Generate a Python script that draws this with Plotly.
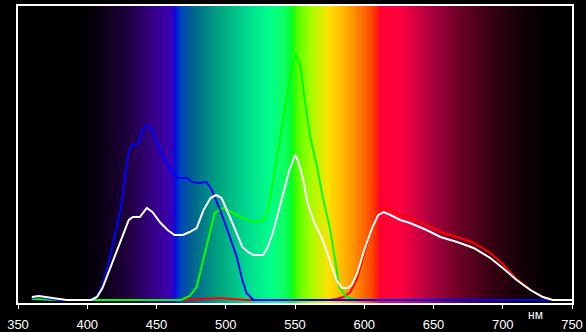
import plotly.graph_objects as go
import numpy as np

# ---- data (wavelength nm, relative intensity) ----
white_wl = [360, 365, 370, 375, 380, 385, 403, 407, 411, 416, 420, 424, 430, 433, 438, 443, 447, 453, 458, 463,
            469, 474, 479, 484, 489, 493, 497, 503, 508, 512, 516, 520, 527, 530, 534, 541, 546, 550, 552, 556,
            559, 564, 570, 575, 580, 584, 588, 591, 595, 600, 606, 610, 614, 619, 626, 633, 645, 655, 667, 679,
            691, 700, 710, 720, 729, 736, 750]
white_val = [3, 4, 3, 2, 1, 0, 0, 3, 12, 30, 44, 57, 80, 83, 83, 92, 88, 77, 70, 65,
             65, 68, 72, 90, 102, 105, 102, 83, 67, 53, 48, 45, 45, 52, 67, 103, 130, 145, 140, 120,
             97, 77, 60, 40, 20, 12, 12, 15, 27, 50, 73, 85, 88, 85, 80, 77, 70, 63, 58, 52,
             42, 32, 20, 10, 3, 0, 0]

blue_wl = [360, 365, 370, 375, 380, 400, 404, 407, 411, 416, 420, 424, 429, 431, 437, 440, 443, 447, 450, 455,
           461, 465, 472, 476, 481, 486, 490, 496, 503, 508, 512, 515, 520, 750]
blue_val = [2, 3, 2, 1, 0, 0, 1, 3, 15, 40, 65, 90, 140, 153, 157, 170, 175, 170, 157, 143,
            128, 122, 122, 118, 117, 118, 110, 90, 63, 43, 20, 7, 0, 0]

green_wl = [360, 380, 468, 474, 479, 485, 489, 492, 498, 505, 512, 518, 522, 527, 530, 534, 539, 544, 549, 551,
            554, 557, 561, 566, 570, 575, 579, 582, 587, 595, 750]
green_val = [1, 0, 0, 4, 13, 47, 70, 87, 92, 87, 82, 79, 78, 80, 87, 117, 160, 203, 240, 245,
             233, 200, 163, 133, 103, 73, 40, 13, 3, 0, 0]

red_wl = [360, 380, 470, 480, 488, 495, 505, 515, 575, 580, 585, 590, 595, 600, 606, 610, 614, 620, 626, 633,
          645, 655, 667, 679, 691, 700, 706, 710, 720, 729, 736, 750]
red_val = [1, 0, 0, 1, 2, 2, 1, 0, 0, 1, 3, 8, 22, 47, 74, 87, 92, 89, 85, 82,
           75, 68, 63, 57, 47, 36, 27, 21, 10, 3, 0, 0]

x_ticks = [350, 400, 450, 500, 550, 600, 650, 700, 750]

# ---- spectrum background colour stops (wavelength, colour) ----
spec_wl = [350, 395, 410, 430, 446, 458, 462, 464, 467, 475, 494, 518, 533, 543, 547, 550, 553, 561, 575,
           590, 604, 609, 611, 626, 647, 667, 691, 715, 735, 750]
spec_col = ["#000000", "#000000", "#0a0012", "#200040", "#340080", "#3c00a8", "#3000c8", "#0010e0", "#0040c0",
            "#006090", "#00a080", "#00e090", "#00ff88", "#10ff60", "#00ff30", "#30ff00", "#60ff00", "#a0ff00",
            "#ffe000", "#ffa000", "#ff5000", "#ff2800", "#ff0030", "#ff0040", "#b00040", "#700028", "#380012",
            "#120006", "#000000", "#000000"]

lo, hi = spec_wl[0], spec_wl[-1]
cscale = [[(w - lo) / (hi - lo), c] for w, c in zip(spec_wl, spec_col)]
bg_x = np.arange(350, 751, 1)

fig = go.Figure()
fig.add_trace(go.Heatmap(x=bg_x, y=[-3, 294], z=[bg_x, bg_x], colorscale=cscale, zmin=lo, zmax=hi,
                         showscale=False, hoverinfo="skip"))

for wl, val, col in [(red_wl, red_val, "#ff0000"), (green_wl, green_val, "#00ff00"),
                     (blue_wl, blue_val, "#0000ff"), (white_wl, white_val, "#ffffff")]:
    fig.add_trace(go.Scatter(x=wl, y=val, mode="lines", line=dict(color=col, width=2), showlegend=False))

fig.add_annotation(x=724, y=-0.04, xref="x", yref="paper", text="нм", showarrow=False,
                   font=dict(color="white", size=12, family="Liberation Sans"), yanchor="middle")

fig.update_layout(
    width=586, height=332,
    margin=dict(l=18, r=14, t=6, b=29, autoexpand=False),
    paper_bgcolor="black", plot_bgcolor="black",
    showlegend=False,
    xaxis=dict(range=[350, 750], tickvals=x_ticks, ticktext=[str(t) for t in x_ticks], automargin=False,
               showgrid=False, zeroline=False, showline=True, mirror=True, linecolor="white", linewidth=2,
               ticks="outside", ticklen=4, tickcolor="white", tickwidth=1, ticklabelstandoff=4,
               tickfont=dict(color="white", size=13, family="Liberation Sans")),
    yaxis=dict(range=[-3, 294], showgrid=False, zeroline=False, showticklabels=False, automargin=False,
               showline=True, mirror=True, linecolor="white", linewidth=2, ticks=""),
)

fig.write_html("out.html")
